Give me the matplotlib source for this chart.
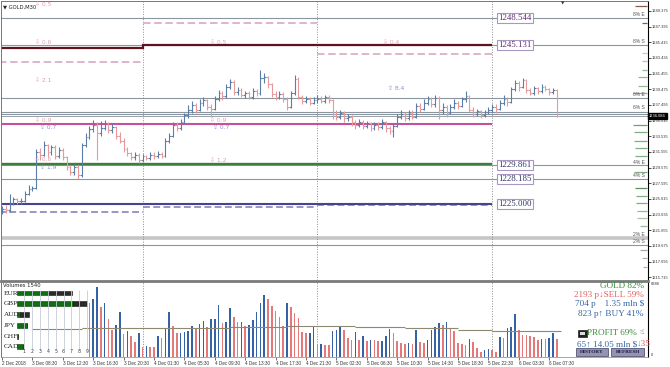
import numpy as np
import matplotlib.pyplot as plt
from matplotlib.patches import Rectangle
from matplotlib.transforms import blended_transform_factory

W, H = 670, 367

# GOLD M30 bars, index 0 = first bar on screen
first_open = 1224.0
close = [1224.4, 1224.2, 1225.1, 1225.6, 1225.3, 1225.4, 1226.3, 1226.9, 1227.0, 1231.5,
         1231.2, 1232.4, 1231.6, 1232.2, 1231.0, 1231.8, 1230.9, 1229.6, 1229.0, 1229.7,
         1228.6, 1232.4, 1233.5, 1234.4, 1235.0, 1234.0, 1234.6, 1235.2, 1234.3, 1234.7,
         1233.6, 1233.0, 1231.9, 1231.4, 1230.9, 1231.2, 1230.5, 1231.0, 1230.8, 1231.2,
         1231.0, 1231.3, 1231.1, 1233.0, 1233.6, 1235.0, 1234.6, 1235.3, 1236.2, 1236.8,
         1237.5, 1236.9, 1237.8, 1238.1, 1237.3, 1237.0, 1238.3, 1239.0, 1238.6, 1239.8,
         1240.4, 1239.1, 1239.4, 1238.8, 1239.0, 1238.5, 1239.2, 1239.0, 1240.9, 1241.0,
         1240.1, 1238.9, 1238.5, 1238.9, 1238.3, 1237.3, 1239.0, 1240.8, 1238.5, 1238.0,
         1238.2, 1237.8, 1238.1, 1238.3, 1238.0, 1238.5, 1238.1, 1236.4, 1236.0, 1236.5,
         1235.8, 1236.0, 1235.3, 1235.0, 1235.4, 1234.9, 1235.2, 1234.6, 1235.0, 1234.7,
         1235.3, 1234.6, 1234.2, 1234.9, 1236.0, 1236.4, 1235.8, 1236.5, 1236.0, 1237.4,
         1237.0, 1237.8, 1238.2, 1237.6, 1238.4, 1236.8, 1237.3, 1236.5, 1237.2, 1237.8,
         1237.4, 1238.2, 1238.6, 1236.9, 1236.4, 1236.7, 1236.2, 1236.6, 1236.9, 1237.3,
         1237.0, 1237.8, 1238.3, 1237.9, 1239.5, 1240.3, 1239.8, 1240.6, 1239.4, 1239.0,
         1239.6, 1239.2, 1239.8, 1239.5, 1239.1, 1239.4, 1236.1]
high = [1224.7, 1224.8, 1226.2, 1225.9, 1225.8, 1225.7, 1226.6, 1227.4, 1227.3, 1231.9,
        1232.0, 1232.9, 1232.6, 1232.5, 1232.4, 1232.2, 1232.0, 1231.0, 1229.9, 1230.0,
        1229.9, 1232.7, 1233.9, 1234.8, 1235.6, 1235.3, 1235.5, 1235.6, 1235.4, 1235.2,
        1234.9, 1234.1, 1233.3, 1232.2, 1231.6, 1231.5, 1231.4, 1231.3, 1231.2, 1231.5,
        1231.6, 1231.7, 1231.5, 1233.3, 1234.0, 1235.3, 1235.4, 1235.7, 1236.5, 1237.5,
        1238.0, 1237.8, 1238.2, 1238.5, 1238.3, 1237.6, 1238.6, 1239.4, 1239.3, 1240.1,
        1240.8, 1240.6, 1239.8, 1239.6, 1239.3, 1239.2, 1239.6, 1239.5, 1241.9, 1241.5,
        1241.2, 1240.3, 1239.2, 1239.2, 1239.1, 1238.5, 1239.3, 1241.3, 1241.0, 1238.8,
        1238.6, 1238.5, 1238.5, 1238.7, 1238.6, 1238.8, 1238.7, 1238.3, 1236.8, 1236.9,
        1236.7, 1236.4, 1236.2, 1235.6, 1235.7, 1235.6, 1235.5, 1235.4, 1235.4, 1235.3,
        1235.7, 1235.5, 1234.9, 1235.2, 1236.3, 1236.8, 1236.6, 1236.9, 1236.8, 1237.8,
        1237.7, 1238.3, 1238.6, 1238.5, 1238.7, 1238.6, 1237.7, 1237.5, 1237.6, 1238.2,
        1238.0, 1238.5, 1239.2, 1238.8, 1237.2, 1237.0, 1236.9, 1236.9, 1237.2, 1237.6,
        1237.6, 1238.1, 1238.8, 1238.5, 1239.8, 1240.7, 1240.5, 1240.9, 1240.8, 1239.7,
        1239.9, 1239.8, 1240.1, 1240.0, 1239.7, 1239.7, 1239.5]
low = [1223.7, 1223.9, 1224.0, 1224.8, 1225.0, 1225.0, 1225.2, 1226.1, 1226.6, 1226.9,
       1230.6, 1231.0, 1230.9, 1231.2, 1230.7, 1230.8, 1230.5, 1229.3, 1228.6, 1228.7,
       1228.2, 1228.4, 1232.2, 1233.2, 1234.1, 1230.6, 1233.6, 1234.3, 1233.9, 1234.0,
       1233.2, 1232.7, 1231.5, 1231.0, 1230.5, 1230.6, 1230.2, 1230.3, 1230.5, 1230.6,
       1230.7, 1230.8, 1230.8, 1230.9, 1232.7, 1233.4, 1234.2, 1234.3, 1235.1, 1235.9,
       1236.5, 1236.5, 1236.7, 1237.4, 1236.9, 1236.0, 1236.8, 1238.0, 1238.1, 1238.4,
       1239.5, 1238.8, 1238.8, 1238.5, 1238.4, 1238.2, 1238.3, 1238.6, 1238.8, 1240.3,
       1239.7, 1238.5, 1238.1, 1238.2, 1237.9, 1236.9, 1237.1, 1238.7, 1238.2, 1237.6,
       1237.7, 1237.5, 1237.6, 1237.8, 1237.7, 1237.8, 1237.8, 1235.7, 1235.6, 1235.7,
       1235.4, 1235.5, 1234.9, 1234.5, 1234.7, 1234.4, 1234.6, 1234.2, 1234.3, 1234.3,
       1234.4, 1234.1, 1233.8, 1233.4, 1234.7, 1235.7, 1235.5, 1235.6, 1235.7, 1235.8,
       1236.6, 1236.8, 1237.5, 1237.2, 1237.3, 1235.7, 1236.4, 1236.0, 1236.3, 1237.0,
       1237.0, 1237.2, 1237.9, 1236.6, 1236.0, 1236.1, 1235.9, 1236.0, 1236.3, 1236.6,
       1236.5, 1236.8, 1237.5, 1237.4, 1237.7, 1239.2, 1239.3, 1239.6, 1239.0, 1238.7,
       1238.8, 1238.9, 1239.0, 1239.2, 1238.8, 1238.9, 1236.0]

date_labels = ['2 Dec 2018', '3 Dec 08:30', '3 Dec 12:30', '3 Dec 16:30', '3 Dec 20:30',
               '4 Dec 01:30', '4 Dec 05:30', '4 Dec 09:30', '4 Dec 13:30', '4 Dec 17:30',
               '4 Dec 21:30', '5 Dec 02:30', '5 Dec 06:30', '5 Dec 10:30', '5 Dec 14:30',
               '5 Dec 18:30', '5 Dec 22:30', '6 Dec 03:30', '6 Dec 07:30']
price_ticks = [1249.375, 1247.395, 1245.415, 1243.435, 1241.455, 1239.475, 1237.495,
               1235.515, 1233.535, 1231.555, 1229.575, 1227.595, 1225.615, 1223.635,
               1221.655, 1219.675, 1217.695, 1215.715]
bid = 1236.086

# tick volumes (bars before index 23 sit behind the currency panel)
vol_start = 23
volume = [4660, 5005, 6041, 4315, 4660, 3279, 2330, 2762, 3884, 1985, 2244, 1812, 1295,
          2071, 863, 949, 900, 860, 1812, 1640, 2503, 3884, 2675, 2071, 2100, 2158, 2244,
          2675, 2416, 2848, 3107, 2589, 3279, 3300, 4488, 2934, 3020, 4200, 3481, 3000,
          3049, 2675, 2762, 3193, 3912, 4631, 5351, 4977, 4401, 3999, 3481, 2675, 4631,
          4344, 3768, 3337, 2186, 2042, 2100, 2675, 1122, 1150, 1036, 1020, 2244, 2330,
          2618, 2330, 1611, 1467, 2129, 1467, 1841, 1410, 1467, 1440, 1410, 1420, 1841,
          2416, 2100, 1381, 1180, 1122, 1180, 1122, 2330, 1266, 1180, 1467, 2330, 2560,
          2963, 2762, 2992, 2387, 2244, 1180, 1122, 1036, 1525, 1324, 748, 460, 604, 690,
          640, 460, 1697, 1611, 2474, 2560, 3710, 2330, 1899, 1870, 1850, 1726, 1438,
          1582, 1560, 1640, 2100, 1582]
vol_scale_max = 6386
vol_label = 'Volumes 1540'
# volume average, stepwise
ma_from = [8, 21, 60, 75, 93, 106, 120, 129]
ma_to = [21, 60, 75, 93, 106, 120, 129, 147]
ma_value = [2390, 2480, 2620, 2700, 2560, 2470, 2330, 2240]

# day separators and per-day levels
day_sep = [37, 83, 129]
day_from = [-1, 37, 83]
day_to = [37, 83, 129]
maroon_level = [1244.70, 1245.13, 1245.13]
pink_dash_level = [1242.96, 1247.90, 1243.97]
purple_dash_level = [1223.97, 1224.59, 1224.81]
magenta_level = 1235.12
green_level = 1230.05
navy_level = 1225.00

gray_levels = [1248.544, 1245.131, 1238.39, 1236.63, 1236.38, 1229.861, 1228.185, 1219.82]
light_level = 1220.63

box_prices = [1248.544, 1245.131, 1229.861, 1228.185, 1225.000]
box_colors = ['#5b2a6e', '#5b2a6e', '#2c3560', '#2c3560', '#2c3560']

pct_labels = ['8% E', '8% S', '6% E', '6% S', '4% E', '4% S', '2% E', '2% S']
pct_prices = [1248.99, 1245.47, 1238.81, 1237.17, 1230.25, 1228.62, 1221.07, 1220.19]

ladder_prices = [1250.0, 1247.9, 1244.1, 1243.0, 1241.95, 1241.07, 1239.94, 1239.06,
                 1234.91, 1234.03, 1232.94, 1232.02, 1231.05, 1229.04, 1226.98, 1226.01,
                 1225.10, 1224.13, 1223.21, 1222.21, 1219.19, 1218.17, 1217.04]
ladder_len = [3.2, 1.3, 1.3, 1.3, 1.3, 2.4, 2.4, 3.7, 3.7, 3.4, 3.4, 3.2, 3.2, 3.4, 3.2,
              2.9, 2.9, 2.6, 2.6, 1.8, 1.8, 1.3, 1.1]
ladder_colors = ['#8a5a50', '#8a5a50', '#b8d4b0', '#a8cca0', '#8fbc8f', '#8fbc8f',
                 '#8fbc8f', '#9aa4aa', '#6f9f6f', '#7fae7f', '#7fae7f', '#7fae7f',
                 '#7fae7f', '#7fae7f', '#5f8f5f', '#7fae7f', '#7fae7f', '#8fbc8f',
                 '#a8c8a0', '#a0b8a0', '#a8a8a8', '#b0b0b0', '#b0b0b0']

# small arrow notes: bar index, price, text, up?
note_x = [8.7, 8.7, 54.7, 100.3, 8.7, 8.7, 10.0, 54.7, 55.5, 54.7, 8.7, 10.0, 101.6]
note_y = [1250.25, 1245.48, 1245.48, 1245.48, 1240.57, 1235.54, 1234.66, 1235.54,
          1234.66, 1230.50, 1230.60, 1229.63, 1239.56]
note_txt = ['0.5', '0.6', '0.5', '0.4', '2.1', '0.9', '0.7', '0.9', '0.7', '1.2', '0.6',
            '1.9', '8.4']
note_up = [False, False, False, False, False, False, True, False, True, False, False,
           True, True]

# currency strength panel
currencies = ['EUR', 'GBP', 'AUD', 'JPY', 'CHF', 'CAD']
strength_green = [4.05, 7.2, 0.4, 1.3, 0.2, 0.8]
strength_black = [3.05, 1.8, 1.2, 0, 0, 0]

# info block
info_text = ['GOLD 82%', '2193 p\u2193SELL 59%', '704 p    1.35 mln $', '823 p\u2191 BUY 41%']
info_colors = ['#3a8a3a', '#e06060', '#3565a5', '#3565a5']

plt.rcParams['font.family'] = ['DejaVu Sans']
serif = ['Liberation Serif', 'DejaVu Serif']
small = ['Liberation Sans', 'DejaVu Sans']

fig = plt.figure(figsize=(W / 100, H / 100), dpi=100)
fig.patch.set_facecolor('white')


def px_axes(x0, y0, x1, y1):
    return fig.add_axes([x0 / W, 1 - y1 / H, (x1 - x0) / W, (y1 - y0) / H])


xlim = (-0.263, 170.0)
ax = px_axes(1, 1, 648, 280)
axv = px_axes(1, 281, 648, 357)

# ---- price panel
ax.set_xlim(*xlim)
ax.set_ylim(1215.373, 1250.639)

gray = '#8a96a0'
for p in gray_levels:
    ax.axhline(p, color=gray, lw=0.8, zorder=1)
ax.axhline(light_level, color='#c6c6c6', lw=2.6, zorder=1)
ax.axhline(bid, color='#9aa0a6', lw=0.7, zorder=1)

for a, b, m, pk, pu in zip(day_from, day_to, maroon_level, pink_dash_level, purple_dash_level):
    ax.hlines(m, a, b, color='#5e1420', lw=1.6, zorder=2)
    ax.hlines(pk, a, b, color='#d9a8c2', lw=1.2, linestyles=(0, (4.5, 2.2)), zorder=2)
    ax.hlines(pu, a, b, color='#7f78b8', lw=1.1, linestyles=(0, (4.5, 2.2)), zorder=2)
ax.plot([day_from[1], day_from[1]], [maroon_level[0], maroon_level[1]], color='#5e1420', lw=1.6)
ax.hlines(magenta_level, day_from[0], day_to[-1], color='#c8509a', lw=1.5, zorder=2)
ax.hlines(green_level, day_from[0], day_to[-1], color='#3d7d3d', lw=1.7, zorder=2)
ax.hlines(navy_level, day_from[0], day_to[-1], color='#45458f', lw=1.5, zorder=2)

for d in day_sep:
    ax.axvline(d, color='#8c8c8c', lw=0.7, ls=(0, (1, 1.6)), zorder=1)
    axv.axvline(d, color='#8c8c8c', lw=0.7, ls=(0, (1, 1.6)), zorder=1)

# OHLC bars
c = np.array(close)
hi = np.array(high)
lo = np.array(low)
o = np.concatenate([[first_open], c[:-1]])
x = np.arange(len(c))
up = c >= o
for mask, col in ((up, '#5b7ea8'), (~up, '#e89a9a')):
    ax.vlines(x[mask], lo[mask], hi[mask], color=col, lw=0.8, zorder=3)
    ax.hlines(o[mask], x[mask] - 0.45, x[mask], color=col, lw=0.8, zorder=3)
    ax.hlines(c[mask], x[mask], x[mask] + 0.45, color=col, lw=0.8, zorder=3)

# level ladder at the right edge
right_i = 169.7
for p, ln, col in zip(ladder_prices, ladder_len, ladder_colors):
    ax.hlines(p, right_i - ln, right_i, color=col, lw=0.9, zorder=2)

# price boxes
for p, col in zip(box_prices, box_colors):
    ax.text(day_sep[-1] + 1.6, p, '%.3f' % p, color=col, fontsize=6.3, family=serif,
            va='center', ha='left', zorder=5,
            bbox=dict(boxstyle='square,pad=0.12', fc='white', ec='#a898c0', lw=0.8))

trans = blended_transform_factory(ax.transAxes, ax.transData)
for t, p in zip(pct_labels, pct_prices):
    ax.text(0.9955, p, t, transform=trans, fontsize=3.6, family=small, color='#555555',
            ha='right', va='center')

for nx, ny, t, u in zip(note_x, note_y, note_txt, note_up):
    col = '#8c8cd0' if u else '#e0a0ac'
    ax.text(nx, ny, ('\u21e7 ' if u else '\u21e9 ') + t, fontsize=4.3, color=col,
            ha='left', va='center', zorder=4)

ax.text(0.003, 0.988, '\u25bc GOLD,M30', transform=ax.transAxes, fontsize=3.8,
        color='#222222', ha='left', va='top')
ax.text(147.6, 1250.6, '\u25bc', fontsize=3.2, color='#333333', ha='center', va='top')

ax.yaxis.tick_right()
ax.set_yticks(price_ticks)
ax.set_yticklabels(['%.3f' % p for p in price_ticks], family=small)
ax.tick_params(axis='y', labelsize=2.9, length=2, pad=1, width=0.6, colors='#333333')
ax.set_xticks([])
ax.text(1.0015, bid, '%.3f' % bid, transform=trans, fontsize=2.9, family=small,
        color='white', ha='left', va='center',
        bbox=dict(boxstyle='square,pad=0.25', fc='black', ec='black'))

for s in ('left', 'top'):
    ax.spines[s].set_color('#777777')
    ax.spines[s].set_linewidth(0.7)
ax.spines['bottom'].set_visible(False)
ax.spines['right'].set_color('black')
ax.spines['right'].set_linewidth(0.8)

# ---- volume panel
axv.set_xlim(*xlim)
axv.set_ylim(0, 6559)
v = np.array(volume)
vx = np.arange(vol_start, vol_start + len(v))
grow = np.concatenate([[False], v[1:] > v[:-1]])
axv.bar(vx[grow], v[grow], width=0.42, color='#3561a5', zorder=3)
axv.bar(vx[~grow], v[~grow], width=0.42, color='#e57878', zorder=3)
axv.hlines(ma_value, ma_from, ma_to, color='#8e8970', lw=0.8, zorder=4)

axv.set_xticks(np.arange(0, 8 * len(date_labels), 8))
axv.set_xticklabels(date_labels, ha='left', family=small)
axv.tick_params(axis='x', labelsize=3.3, length=2, pad=0.8, width=0.5, colors='#333333')
axv.yaxis.tick_right()
axv.set_yticks([0, vol_scale_max])
axv.set_yticklabels(['0', str(vol_scale_max)], family=small)
axv.tick_params(axis='y', labelsize=3.0, length=0, pad=2, colors='#333333')
axv.get_yticklabels()[0].set_va('bottom')
axv.spines['top'].set_color('#7a7a7a')
axv.spines['top'].set_linewidth(2.0)
axv.spines['left'].set_color('#777777')
axv.spines['left'].set_linewidth(0.7)
axv.spines['bottom'].set_color('#999999')
axv.spines['bottom'].set_linewidth(0.6)
axv.spines['right'].set_color('black')
axv.spines['right'].set_linewidth(0.8)

# info block on the right of the volume panel
for k, (t, col) in enumerate(zip(info_text, info_colors)):
    axv.text(0.9938, [0.935, 0.815, 0.70, 0.57][k], t, transform=axv.transAxes,
             fontsize=6.6, family=serif, color=col, ha='right', va='center', zorder=6)
axv.add_patch(Rectangle((0.8925, 0.265), 0.0125, 0.085, transform=axv.transAxes,
                        fc='#222222', ec='#222222', lw=0.5, zorder=6))
axv.add_patch(Rectangle((0.8945, 0.295), 0.0085, 0.04, transform=axv.transAxes,
                        fc='#dddddd', lw=0, zorder=7))
axv.text(0.9057, 0.316, 'PROFIT 69%', transform=axv.transAxes, fontsize=6.6,
         family=serif, color='#3a8a3a', ha='left', va='center', zorder=6)
axv.text(0.9865, 0.33, '\u261d', transform=axv.transAxes, fontsize=5, color='#555555',
         ha='left', va='center', zorder=6)
axv.text(0.9830, 0.171, '65\u2191 14.05 mln $', transform=axv.transAxes, fontsize=6.6,
         family=serif, color='#3565a5', ha='right', va='center', zorder=6)
axv.text(0.9830, 0.171, '\u219335', transform=axv.transAxes, fontsize=6.6,
         family=serif, color='#e06060', ha='left', va='center', zorder=6)
for bx, bw, t in ((0.889, 0.049, 'HISTORY'), (0.943, 0.051, 'REFRESH')):
    axv.add_patch(Rectangle((bx, 0.01), bw, 0.105, transform=axv.transAxes,
                            fc='#9593ad', ec='#55557a', lw=0.6, zorder=6))
    axv.text(bx + bw / 2, 0.062, t, transform=axv.transAxes, fontsize=3.8,
             family=serif, weight='bold', color='#1c1c4c', ha='center', va='center',
             zorder=7)

# ---- currency strength panel (overlay on the left of the volume panel)
axc = px_axes(0, 282, 90, 357)
axc.set_xlim(-2.102, 9.363)
axc.set_ylim(5.93, -1.02)
axc.axis('off')
axc.vlines(np.arange(1, 10), -0.28, 5.28, color='#c4ccd8', lw=0.6)
axc.barh(range(len(currencies)), strength_green, height=0.46, color='#0f6e0f',
         edgecolor='#0a3a0a', lw=0.4)
axc.barh(range(len(currencies)), strength_black, left=strength_green, height=0.46,
         color='#2a2a2a', edgecolor='#111111', lw=0.4)
for r, name in enumerate(currencies):
    axc.text(-1.6, r, name, fontsize=5.2, family=serif, color='#222222',
             ha='left', va='center')
for n in range(1, 10):
    axc.text(n, 5.46, str(n), fontsize=3.4, color='#444444', ha='center', va='center')
axc.text(-1.75, -0.72, vol_label, fontsize=3.8, color='#222222', ha='left', va='center')

fig.savefig('out.png', dpi=100)
